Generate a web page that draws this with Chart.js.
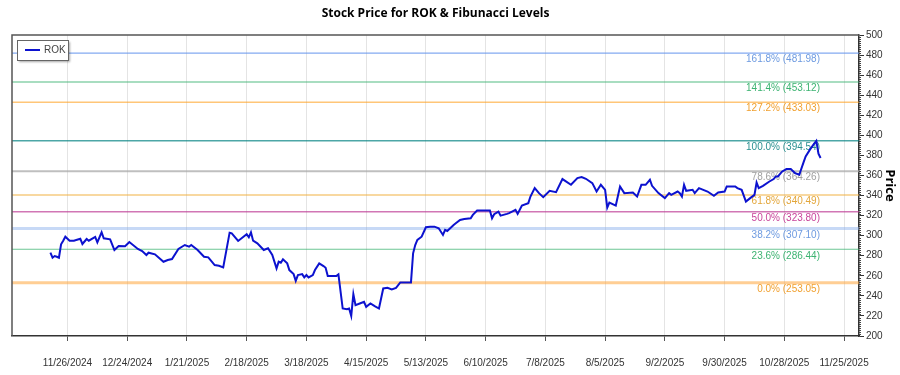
<!DOCTYPE html>
<html>
<head>
<meta charset="utf-8">
<script src="https://cdn.jsdelivr.net/npm/chart.js@4.4.1/dist/chart.umd.min.js"></script>
<style>
  html, body { margin: 0; padding: 0; background: #fff; }
  #wrap { width: 900px; height: 375px; }
</style>
</head>
<body>
<div id="wrap"><canvas id="rokChart"></canvas></div>
<script>
var ticker = 'ROK';
var chartTitle = 'Stock Price for ROK & Fibunacci Levels';

var dates = [
  '2024-11-18','2024-11-19','2024-11-20','2024-11-21','2024-11-22','2024-11-23','2024-11-24','2024-11-25','2024-11-27','2024-11-29',
  '2024-12-02','2024-12-03','2024-12-05','2024-12-06','2024-12-09','2024-12-10','2024-12-12','2024-12-13','2024-12-16','2024-12-18',
  '2024-12-20','2024-12-23','2024-12-25','2024-12-29','2024-12-31','2025-01-02','2025-01-03','2025-01-06','2025-01-10','2025-01-12',
  '2025-01-14','2025-01-17','2025-01-20','2025-01-22','2025-01-23','2025-01-26','2025-01-29','2025-01-31','2025-02-03','2025-02-05',
  '2025-02-07','2025-02-10','2025-02-11','2025-02-14','2025-02-18','2025-02-19','2025-02-20','2025-02-21','2025-02-23','2025-02-26',
  '2025-02-28','2025-03-02','2025-03-04','2025-03-05','2025-03-06','2025-03-07','2025-03-09','2025-03-10','2025-03-12','2025-03-13',
  '2025-03-14','2025-03-16','2025-03-17','2025-03-18','2025-03-19','2025-03-21','2025-03-22','2025-03-24','2025-03-26','2025-03-27',
  '2025-03-28','2025-04-01','2025-04-02','2025-04-04','2025-04-06','2025-04-07','2025-04-08','2025-04-09','2025-04-10','2025-04-12',
  '2025-04-14','2025-04-15','2025-04-17','2025-04-19','2025-04-21','2025-04-23','2025-04-25','2025-04-27','2025-04-29','2025-05-01',
  '2025-05-06','2025-05-07','2025-05-08','2025-05-09','2025-05-11','2025-05-13','2025-05-15','2025-05-17','2025-05-19','2025-05-21',
  '2025-05-22','2025-05-23','2025-05-26','2025-05-27','2025-05-29','2025-05-31','2025-06-03','2025-06-04','2025-06-06','2025-06-09',
  '2025-06-12','2025-06-13','2025-06-14','2025-06-16','2025-06-17','2025-06-20','2025-06-21','2025-06-24','2025-06-25','2025-06-27',
  '2025-06-30','2025-07-01','2025-07-03','2025-07-05','2025-07-07','2025-07-10','2025-07-13','2025-07-16','2025-07-20','2025-07-23',
  '2025-07-25','2025-07-27','2025-07-30','2025-08-01','2025-08-03','2025-08-05','2025-08-06','2025-08-07','2025-08-10','2025-08-12',
  '2025-08-14','2025-08-18','2025-08-20','2025-08-22','2025-08-24','2025-08-26','2025-08-27','2025-08-30','2025-09-02','2025-09-04',
  '2025-09-05','2025-09-08','2025-09-09','2025-09-10','2025-09-11','2025-09-12','2025-09-15','2025-09-16','2025-09-18','2025-09-22',
  '2025-09-25','2025-09-27','2025-09-30','2025-10-01','2025-10-05','2025-10-06','2025-10-08','2025-10-10','2025-10-12','2025-10-14',
  '2025-10-15','2025-10-16','2025-10-18','2025-10-21','2025-10-23','2025-10-24','2025-10-25','2025-10-27','2025-10-29','2025-10-31',
  '2025-11-02','2025-11-04','2025-11-06','2025-11-07','2025-11-09','2025-11-11','2025-11-12','2025-11-13','2025-11-14'
];

var closes = [
  283, 278, 279.7, 279, 278, 291.4, 295, 299, 295, 295,
  297, 291.7, 296.7, 295, 298.7, 293.4, 303.4, 297.4, 296.4, 285.7,
  289.7, 289.4, 293.7, 286.7, 284.7, 280.7, 283, 281.4, 274, 275.7,
  276.7, 286.7, 290.7, 289, 290.7, 285.7, 279, 278.4, 270.7, 270,
  268.4, 303, 302.4, 294.7, 301.4, 298.4, 303.4, 295, 292.4, 285.7,
  287.4, 280.7, 267.4, 274, 273, 276.4, 272.4, 265.7, 261.7, 255,
  260.7, 261.7, 258.4, 260.7, 258.4, 260.7, 265.7, 272.4, 269.7, 268,
  259.7, 259.7, 261.4, 227.4, 226.7, 227.4, 220, 241.7, 230.7, 232.4,
  234, 229, 232.4, 229.7, 227.4, 247.4, 248, 246.4, 248, 253.4,
  253.4, 282.4, 290.7, 295.7, 299, 308.4, 309, 309, 307.4, 300.7,
  305.7, 304.7, 310.7, 312.4, 315.7, 316.7, 317.4, 320.7, 325, 325,
  325, 317.4, 321.4, 324, 320, 321.7, 322.4, 325.7, 321.7, 330,
  332.4, 339, 347.4, 342.4, 338.4, 344.7, 343.4, 356.4, 350.7, 357.4,
  358.4, 356.7, 352.4, 344, 350.7, 345.7, 328, 333, 330, 349,
  342.4, 343, 339, 350.7, 350.7, 355.7, 349.7, 342.4, 337.4, 342.4,
  340.7, 344, 342.4, 339, 350.7, 344.7, 345.7, 342.4, 347.4, 344,
  339.7, 343, 344, 349, 349, 347.4, 345.7, 334, 337.4, 340.7,
  353, 347.4, 349.7, 354, 356.4, 359, 359, 364, 366.4, 366.4,
  362.4, 360.7, 373, 379, 385.7, 391.7, 394.5, 381.7, 377.4
];

var fibLevels = ['161.8%', '141.4%', '127.2%', '100.0%', '78.6%', '61.8%', '50.0%', '38.2%', '23.6%', '0.0%'];
var fibPrices = [481.98, 453.12, 433.03, 394.54, 364.26, 340.49, 323.80, 307.10, 286.44, 253.05];

var tickLabels = ['11/26/2024', '12/24/2024', '1/21/2025', '2/18/2025', '3/18/2025', '4/15/2025', '5/13/2025',
                  '6/10/2025', '7/8/2025', '8/5/2025', '9/2/2025', '9/30/2025', '10/28/2025', '11/25/2025'];
var xStart = '2024-10-31';
var xEnd = '2025-12-02';

// styles for the fib lines (line colour, text colour, width)
var fibLineColors = ['rgba(100,149,237,0.8)', 'rgba(60,179,113,0.6)', 'rgba(255,160,30,0.6)', 'rgba(0,128,128,0.7)',
                     'rgba(170,170,170,0.75)', 'rgba(240,175,60,0.65)', 'rgba(190,60,150,0.7)', 'rgba(130,170,235,0.45)',
                     'rgba(60,179,113,0.75)', 'rgba(255,165,60,0.55)'];
var fibTextColors = ['#6d9ae0', '#3cb371', '#f0a030', '#2a9090', '#a0a0a0', '#e3a63a', '#c8449a', '#6d9ae0', '#3cb371', '#f0a030'];
var fibWidths = [1.2, 1.5, 1.5, 1.5, 2, 1.5, 1.5, 3, 1.2, 3];

var baseFont = "'Liberation Sans', Arial, sans-serif";

function isoToMs(s) {
  var p = s.split('-');
  return Date.UTC(+p[0], +p[1] - 1, +p[2]);
}

function mdyToMs(s) {
  var p = s.split('/');
  return Date.UTC(+p[2], +p[0] - 1, +p[1]);
}

function msToMdy(v) {
  var d = new Date(v);
  return (d.getUTCMonth() + 1) + '/' + d.getUTCDate() + '/' + d.getUTCFullYear();
}

var priceData = dates.map(function (d, i) {
  return { x: isoToMs(d), y: closes[i] };
});

var datasets = [{
  label: ticker,
  data: priceData,
  borderColor: '#0c12cf',
  borderWidth: 2,
  pointRadius: 0,
  tension: 0,
  fill: false
}];

fibPrices.forEach(function (p, i) {
  datasets.push({
    label: fibLevels[i],
    data: [{ x: isoToMs(xStart), y: p }, { x: isoToMs(xEnd), y: p }],
    borderColor: fibLineColors[i],
    borderWidth: fibWidths[i],
    pointRadius: 0,
    fill: false
  });
});

// title centred over the plot area
var titlePlugin = {
  id: 'plotTitle',
  afterDraw: function (chart) {
    var ctx = chart.ctx, a = chart.chartArea;
    ctx.save();
    ctx.font = "bold 12px 'Open Sans', sans-serif";
    ctx.fillStyle = '#000';
    ctx.textAlign = 'center';
    ctx.textBaseline = 'middle';
    ctx.fillText(chartTitle, (a.left + a.right) / 2, 14);
    ctx.restore();
  }
};

// frame round the plot area + minor ticks on the price axis
var framePlugin = {
  id: 'frame',
  afterDraw: function (chart) {
    var ctx = chart.ctx, a = chart.chartArea, y = chart.scales.y;
    ctx.save();
    ctx.strokeStyle = '#555';
    ctx.lineWidth = 1.5;
    ctx.beginPath();
    ctx.moveTo(a.left, a.bottom);
    ctx.lineTo(a.left, a.top);
    ctx.lineTo(a.right, a.top);
    ctx.stroke();
    ctx.strokeStyle = '#444';
    ctx.lineWidth = 1;
    ctx.beginPath();
    for (var v = y.min; v <= y.max; v += 2) {
      if (v % 20 === 0) continue;
      var py = Math.round(y.getPixelForValue(v)) + 0.5;
      ctx.moveTo(a.right, py);
      ctx.lineTo(a.right + 2, py);
    }
    ctx.stroke();
    ctx.restore();
  }
};

// fib level labels, drawn under the lines
var fibLabelPlugin = {
  id: 'fibLabels',
  beforeDatasetsDraw: function (chart) {
    var ctx = chart.ctx, a = chart.chartArea, y = chart.scales.y;
    ctx.save();
    ctx.font = '10px ' + baseFont;
    ctx.textAlign = 'right';
    ctx.textBaseline = 'top';
    fibPrices.forEach(function (p, i) {
      ctx.fillStyle = fibTextColors[i];
      ctx.fillText(fibLevels[i] + ' (' + p.toFixed(2) + ')', a.right - 39, y.getPixelForValue(p) + 1.5);
    });
    ctx.restore();
  }
};

// small boxed legend in the top-left corner
var boxLegendPlugin = {
  id: 'boxLegend',
  afterDraw: function (chart) {
    var ctx = chart.ctx, a = chart.chartArea, ds = chart.data.datasets[0];
    var bx = a.left + 5, by = a.top + 5, bw = 51, bh = 20;
    ctx.save();
    ctx.shadowColor = 'rgba(0,0,0,0.35)';
    ctx.shadowOffsetX = 2;
    ctx.shadowOffsetY = 2;
    ctx.shadowBlur = 2;
    ctx.fillStyle = '#fff';
    ctx.fillRect(bx, by, bw, bh);
    ctx.shadowColor = 'transparent';
    ctx.strokeStyle = '#666';
    ctx.lineWidth = 1;
    ctx.strokeRect(bx + 0.5, by + 0.5, bw, bh);
    ctx.strokeStyle = ds.borderColor;
    ctx.lineWidth = 2;
    ctx.beginPath();
    ctx.moveTo(bx + 8, by + 10);
    ctx.lineTo(bx + 23, by + 10);
    ctx.stroke();
    ctx.fillStyle = '#444';
    ctx.font = '10px ' + baseFont;
    ctx.textBaseline = 'middle';
    ctx.fillText(ds.label, bx + 27, by + 10.5);
    ctx.restore();
  }
};

var ctx = document.getElementById('rokChart');
window.rokChart = new Chart(ctx, {
  type: 'line',
  data: { datasets: datasets },
  options: {
    responsive: true,
    maintainAspectRatio: false,
    animation: false,
    layout: { padding: { top: 35, left: 12, right: 0, bottom: 0 } },
    plugins: {
      legend: { display: false },
      title: { display: false },
      tooltip: { enabled: false }
    },
    scales: {
      x: {
        type: 'linear',
        min: isoToMs(xStart),
        max: isoToMs(xEnd),
        afterBuildTicks: function (scale) {
          scale.ticks = tickLabels.map(function (t) { return { value: mdyToMs(t) }; });
        },
        afterFit: function (scale) { scale.height = 39; },
        ticks: {
          autoSkip: false,
          maxRotation: 0,
          padding: 16,
          color: '#333',
          font: { size: 10, family: baseFont },
          callback: function (v) { return msToMdy(v); }
        },
        grid: {
          color: '#e4e4e4',
          lineWidth: 1,
          drawTicks: true,
          tickLength: 5,
          tickColor: '#555'
        },
        border: { display: true, color: '#333', width: 1.5 }
      },
      y: {
        position: 'right',
        min: 200,
        max: 500,
        afterFit: function (scale) { scale.width = 41; },
        ticks: {
          stepSize: 20,
          padding: 2,
          color: '#333',
          font: { size: 10, family: baseFont }
        },
        grid: {
          drawOnChartArea: false,
          drawTicks: true,
          tickLength: 5,
          tickColor: '#333'
        },
        border: { display: true, color: '#333', width: 1.5 },
        title: {
          display: true,
          text: 'Price',
          color: '#000',
          padding: { top: 2, bottom: 2 },
          font: { size: 13, weight: 'bold', family: "'Open Sans', sans-serif" }
        }
      }
    }
  },
  plugins: [fibLabelPlugin, titlePlugin, framePlugin, boxLegendPlugin]
});
</script>
</body>
</html>
